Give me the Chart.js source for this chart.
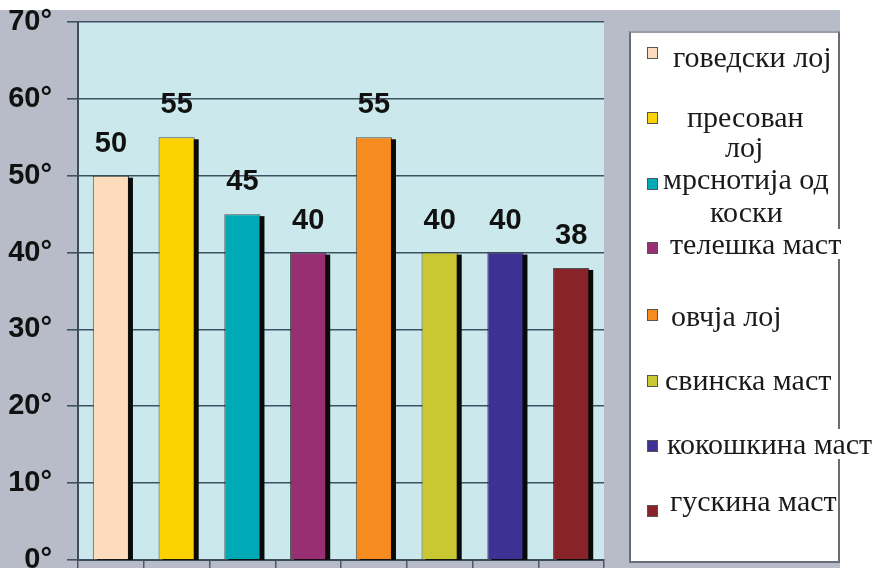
<!DOCTYPE html>
<html>
<head>
<meta charset="utf-8">
<script src="https://cdn.jsdelivr.net/npm/chart.js@4.4.1/dist/chart.umd.min.js"></script>
<style>
  html, body { margin: 0; padding: 0; background: #fff; }
  #wrap { position: relative; width: 877px; height: 568px; overflow: hidden; }
  #panel { position: absolute; left: 0; top: 10px; width: 840px; height: 558px; background: #b8bcc9; }
  #chartBox { position: absolute; left: 0; top: 0; width: 877px; height: 568px; }
  #legend { position: absolute; left: 629px; top: 31px; width: 207px; height: 528px;
            background: #fff; border: 2px solid #6a6c78; border-top-color: #9a9ca8; }
  .item { position: absolute; font-family: "Liberation Serif", "Times New Roman", serif;
          font-size: 30px; line-height: 1; color: #1a1a1a; white-space: nowrap; background: #fff; }
  .sw { position: absolute; width: 9px; height: 10px; border: 1px solid #555; }
</style>
</head>
<body>
<div id="wrap">
  <div id="panel"></div>
  <div id="chartBox"><canvas id="fatChart" width="877" height="568"></canvas></div>
  <div id="legend"></div>
</div>
<script>
const categories = ['говедски лој', 'пресован лој', 'мрснотија од коски', 'телешка маст',
                    'овчја лој', 'свинска маст', 'кокошкина маст', 'гускина маст'];
const values = [50, 55, 45, 40, 55, 40, 40, 38];
const barColors = ['#fddcbd', '#fcd200', '#00a9b6', '#982f72', '#f68b1f', '#c9c832', '#3d3193', '#88232a'];
const yTickLabels = ['0°', '10°', '20°', '30°', '40°', '50°', '60°', '70°'];
// legend text as it is broken into lines in the picture
const legendLines = [['говедски лој'], ['пресован', 'лој'], ['мрснотија од', 'коски'], ['телешка маст'],
                     ['овчја лој'], ['свинска маст'], ['кокошкина маст'], ['гускина маст']];

// where each legend entry sits (page px): swatch top, text lines [left, baseline]
const legendLayout = [
    { sw: 47, lines: [[673, 67]] },
    { sw: 112, lines: [[687, 127], [725, 157]] },
    { sw: 178, lines: [[663, 189], [710, 222]] },
    { sw: 242, lines: [[670, 254]] },
    { sw: 309, lines: [[671, 326]] },
    { sw: 375, lines: [[665, 390]] },
    { sw: 440, lines: [[667, 454]] },
    { sw: 505, lines: [[670, 511]] }
];

const labelFont = '"Liberation Sans", Arial, sans-serif';

function buildLegend() {
    const box = document.getElementById('legend');
    const fs = 30;
    const bx = 631, by = 33;
    legendLines.forEach((lines, i) => {
        const lay = legendLayout[i];
        const sw = document.createElement('div');
        sw.className = 'sw';
        sw.style.left = (647 - bx) + 'px';
        sw.style.top = (lay.sw - by) + 'px';
        sw.style.background = barColors[i];
        box.appendChild(sw);
        lines.forEach((txt, j) => {
            const el = document.createElement('div');
            el.className = 'item';
            el.textContent = txt;
            el.style.left = (lay.lines[j][0] - bx) + 'px';
            el.style.top = (lay.lines[j][1] - 0.8375 * fs - by) + 'px';
            box.appendChild(el);
        });
    });
}

const plotBg = {
    id: 'plotBg',
    beforeDraw(chart) {
        const { ctx, chartArea: a } = chart;
        ctx.save();
        ctx.fillStyle = '#cbe9ec';
        ctx.fillRect(a.left, a.top, a.right - a.left, a.bottom - a.top);
        ctx.restore();
    }
};

// black drop shadow on the right of every bar
const barShadow = {
    id: 'barShadow',
    beforeDatasetsDraw(chart) {
        const { ctx, chartArea: a } = chart;
        const meta = chart.getDatasetMeta(0);
        ctx.save();
        ctx.beginPath();
        ctx.rect(a.left, a.top, a.right - a.left, a.bottom - a.top);
        ctx.clip();
        ctx.fillStyle = '#0a0a0a';
        meta.data.forEach(bar => {
            const w = bar.width;
            ctx.fillRect(bar.x - w / 2 + 4, bar.y + 2, w, bar.base - bar.y);
        });
        ctx.restore();
    }
};

const valueLabels = {
    id: 'valueLabels',
    afterDatasetsDraw(chart) {
        const ctx = chart.ctx;
        const meta = chart.getDatasetMeta(0);
        ctx.save();
        ctx.font = 'bold 29px ' + labelFont;
        ctx.fillStyle = '#111';
        ctx.textAlign = 'center';
        ctx.textBaseline = 'alphabetic';
        meta.data.forEach((bar, i) => {
            ctx.fillText(String(values[i]), bar.x, bar.y - 24);
        });
        ctx.restore();
    }
};

function createFatChart() {
    const ctx = document.getElementById('fatChart').getContext('2d');
    new Chart(ctx, {
        type: 'bar',
        data: {
            labels: categories,
            datasets: [{
                data: values,
                backgroundColor: barColors,
                borderColor: 'rgba(20,20,20,0.7)',
                borderWidth: 1,
                barPercentage: 0.55,
                categoryPercentage: 1
            }]
        },
        plugins: [plotBg, barShadow, valueLabels],
        options: {
            responsive: false,
            animation: false,
            layout: { padding: { left: 0, right: 273, top: 22, bottom: 0 } },
            plugins: { legend: { display: false }, tooltip: { enabled: false } },
            scales: {
                x: {
                    offset: true,
                    afterFit: s => { s.height = 8; },
                    grid: { offset: true, drawOnChartArea: false, drawTicks: true, tickLength: 8, color: '#4a5a68', lineWidth: 1.5 },
                    border: { color: '#3d4d5c', width: 2 },
                    ticks: { display: false }
                },
                y: {
                    min: 0,
                    max: 70,
                    afterFit: s => {
                        s.width = 78;
                        s.paddingTop = 0;
                        s.paddingBottom = 0;
                    },
                    grid: { color: '#3d5163', lineWidth: 1.6, tickLength: 11 },
                    border: { color: '#3d4d5c', width: 2 },
                    ticks: {
                        stepSize: 10,
                        padding: 15,
                        color: '#111',
                        font: { family: labelFont, size: 29, weight: 'bold' },
                        callback: v => yTickLabels[v / 10]
                    }
                }
            }
        }
    });
}

buildLegend();
createFatChart();
</script>
</body>
</html>
